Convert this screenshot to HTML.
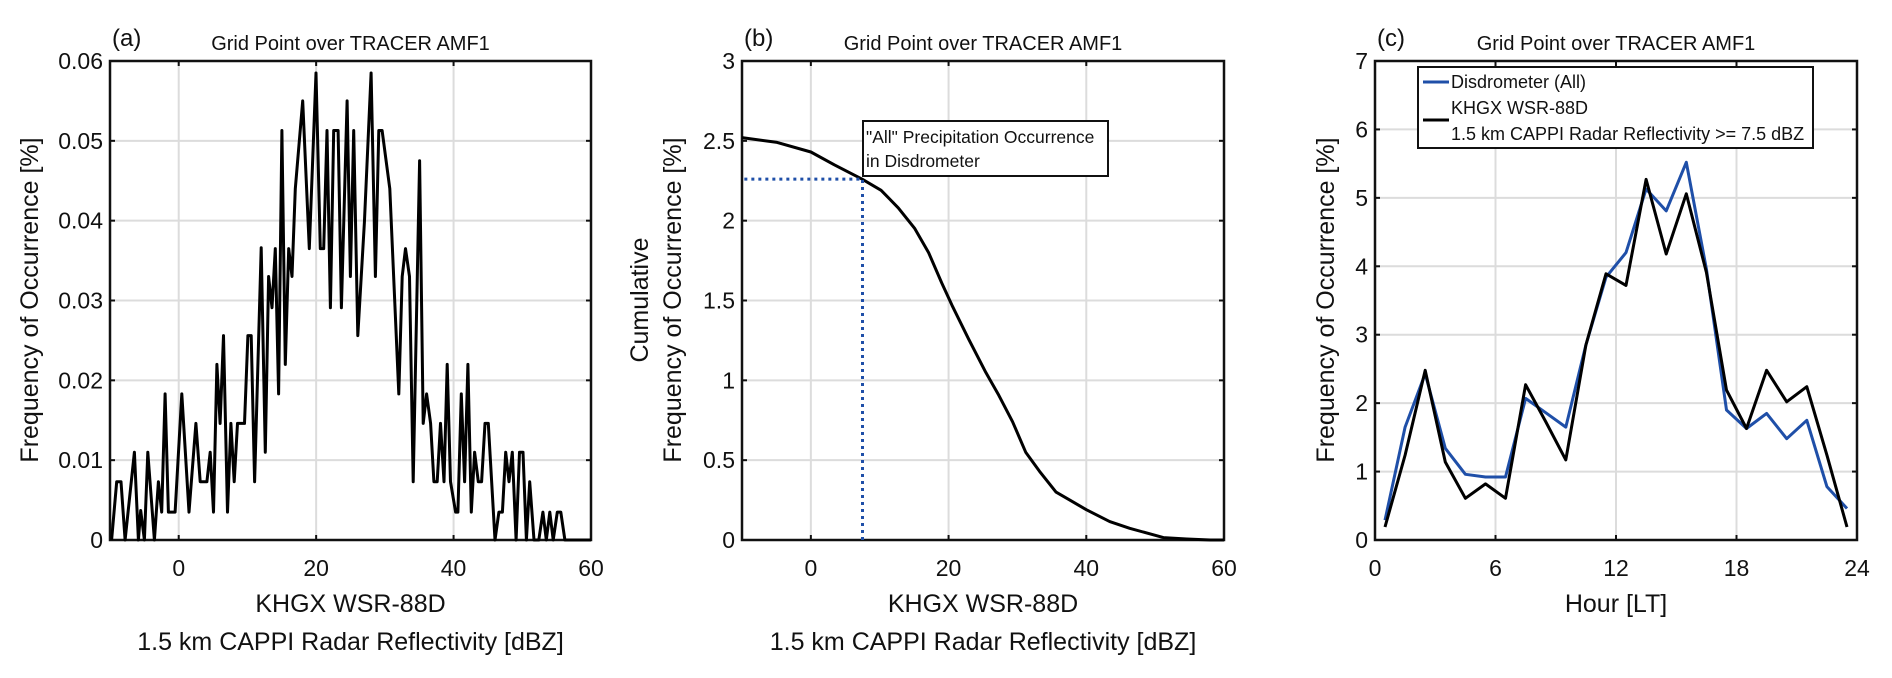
<!DOCTYPE html>
<html><head><meta charset="utf-8"><style>
html,body{margin:0;padding:0;background:#fff;}
svg{display:block;font-family:"Liberation Sans",sans-serif;}
</style></head><body>
<svg id="fig" width="1892" height="678" viewBox="0 0 1892 678" xmlns="http://www.w3.org/2000/svg"></svg>
<script>
// ---------- Panel (a) data ----------
const aX = [-9.76,-9.03,-8.4,-7.8,-6.45,-5.87,-5.53,-5.0,-4.5,-3.54,-2.96,-2.47,-1.98,-1.5,-0.53,0.45,1.5,2.5,3.12,4.1,4.58,5.06,5.55,6.03,6.52,7.1,7.59,8.07,8.56,9.58,10.07,10.55,11.04,12.0,12.6,13.08,13.57,14.05,14.54,15.02,15.51,16.0,16.48,16.97,18.04,19.0,19.98,20.6,21.1,21.58,22.07,22.55,23.19,23.67,24.5,24.99,25.47,26.06,27.03,28.0,28.63,29.12,29.6,30.72,32.03,32.52,33.0,33.59,34.12,35.05,35.58,36.07,36.65,37.14,37.62,38.1,38.6,39.08,39.56,40.3,40.63,41.12,41.6,42.09,42.58,43.06,43.6,44.08,44.57,45.05,46.03,46.6,47.1,47.58,48.07,48.55,49.1,49.6,50.1,50.6,51.08,51.7,52.4,53.0,53.5,54.0,54.5,55.1,55.6,56.2,60];
const aY = [0,0.0073,0.0073,0,0.011,0,0.0037,0,0.011,0,0.0073,0.0035,0.0183,0.0035,0.0035,0.0183,0.0035,0.0146,0.0073,0.0073,0.011,0.0035,0.022,0.0146,0.0256,0.0035,0.0146,0.0073,0.0146,0.0146,0.0256,0.0256,0.0073,0.0366,0.011,0.033,0.0291,0.0365,0.0183,0.0513,0.022,0.0365,0.033,0.044,0.055,0.0365,0.0585,0.0365,0.0365,0.0513,0.0291,0.0513,0.0513,0.0291,0.055,0.033,0.0513,0.0256,0.0398,0.0585,0.033,0.0513,0.0513,0.044,0.0183,0.033,0.0365,0.033,0.0073,0.0475,0.0146,0.0183,0.0146,0.0073,0.0073,0.0146,0.0073,0.022,0.0073,0.0035,0.0035,0.0183,0.0073,0.022,0.0035,0.011,0.0073,0.0073,0.0146,0.0146,0,0.0035,0.0035,0.011,0.0073,0.011,0,0.011,0.011,0,0.0073,0,0,0.0035,0,0.0035,0,0.0035,0.0035,0,0];
const aXTicks = [0,20,40,60];
const aYTicks = [0,0.01,0.02,0.03,0.04,0.05,0.06];
const aYTickLabels = ["0","0.01","0.02","0.03","0.04","0.05","0.06"];
// ---------- Panel (b) data ----------
const bX = [-10,-4.9,0,3.4,7.46,10.2,12.7,15.1,17.1,19.0,20.5,22.9,25.4,27.3,29.3,31.2,33.2,35.6,37.6,40,43.4,46.3,51.2,54.6,58,60];
const bY = [2.52,2.49,2.43,2.35,2.26,2.19,2.08,1.95,1.80,1.61,1.47,1.26,1.05,0.906,0.74,0.55,0.43,0.30,0.25,0.19,0.115,0.073,0.015,0.006,0,0];
const bThreshX = 7.5;
const bThreshY = 2.26;
const bXTicks = [0,20,40,60];
const bYTicks = [0,0.5,1,1.5,2,2.5,3];
const bYTickLabels = ["0","0.5","1","1.5","2","2.5","3"];
// ---------- Panel (c) data ----------
const cHours = [0.5,1.5,2.5,3.5,4.5,5.5,6.5,7.5,8.5,9.5,10.5,11.5,12.5,13.5,14.5,15.5,16.5,17.5,18.5,19.5,20.5,21.5,22.5,23.5];
const cDisdrometer = [0.29,1.65,2.43,1.34,0.96,0.92,0.92,2.07,1.86,1.65,2.85,3.84,4.2,5.13,4.81,5.52,3.96,1.9,1.63,1.85,1.48,1.75,0.78,0.46];
const cRadar = [0.19,1.24,2.48,1.14,0.61,0.82,0.61,2.27,1.73,1.17,2.85,3.89,3.72,5.27,4.18,5.06,3.91,2.19,1.63,2.48,2.02,2.24,1.24,0.19];
const cXTicks = [0,6,12,18,24];
const cYTicks = [0,1,2,3,4,5,6,7];

const NS = "http://www.w3.org/2000/svg";
const svg = document.getElementById('fig');
function mk(tag, attrs, parent){
  const e = document.createElementNS(NS, tag);
  for (const k in attrs) e.setAttribute(k, attrs[k]);
  (parent||svg).appendChild(e);
  return e;
}
function txt(s, attrs, parent){ const e = mk('text', attrs, parent); e.textContent = s; return e; }

function panel(cfg){
  const g = mk('g', {});
  
  
  const L=cfg.L,R=cfg.R,T=61,B=540;
  const sx = v => L + (v-cfg.xmin)/(cfg.xmax-cfg.xmin)*(R-L);
  const sy = v => B - (v-cfg.ymin)/(cfg.ymax-cfg.ymin)*(B-T);
  cfg.xt.forEach(v=>{ if(v>cfg.xmin && v<cfg.xmax){ const l=mk('line',{x1:sx(v),x2:sx(v),y1:T,y2:B,stroke:'#dcdcdc','stroke-width':2},g);   }});
  cfg.yt.forEach(v=>{ if(v>cfg.ymin && v<cfg.ymax){ const l=mk('line',{x1:L,x2:R,y1:sy(v),y2:sy(v),stroke:'#dcdcdc','stroke-width':2},g);   }});
  cfg.xt.forEach(v=>{
    mk('line',{x1:sx(v),x2:sx(v),y1:B,y2:B-5,stroke:'#111','stroke-width':2},g);
    mk('line',{x1:sx(v),x2:sx(v),y1:T,y2:T+5,stroke:'#111','stroke-width':2},g);
    const t=txt(String(v),{x:sx(v),y:576,'font-size':23,'text-anchor':'middle',fill:'#111'},g);
     
  });
  cfg.yt.forEach((v,i)=>{
    mk('line',{x1:L,x2:L+5,y1:sy(v),y2:sy(v),stroke:'#111','stroke-width':2},g);
    mk('line',{x1:R,x2:R-5,y1:sy(v),y2:sy(v),stroke:'#111','stroke-width':2},g);
    const t=txt(cfg.ytl?cfg.ytl[i]:String(v),{x:L-7,y:sy(v)+8,'font-size':23,'text-anchor':'end',fill:'#111'},g);
     
  });
  const frame=mk('rect',{x:L,y:T,width:R-L,height:B-T,fill:'none',stroke:'#111','stroke-width':2.5},g);
   
  const tt=txt('Grid Point over TRACER AMF1',{x:(L+R)/2,y:50,'font-size':20,'text-anchor':'middle',fill:'#111'},g);
   
  const pl=txt(cfg.letter,{x:L+2,y:46,'font-size':24,fill:'#111'},g);
   
  cfg.xl.forEach((s,i)=>{ const t=txt(s,{x:(L+R)/2,y:612+i*38,'font-size':25,'text-anchor':'middle',fill:'#111'},g);   });
  cfg.yl.forEach((s,i)=>{ const x=cfg.ylx[i]; const t=txt(s,{x:x,y:300,'font-size':25,'text-anchor':'middle',fill:'#111',transform:`rotate(-90 ${x} 300)`},g);   });
  return {g,sx,sy};
}
function pathD(xs,ys,sx,sy){ return xs.map((x,i)=>(i?'L':'M')+sx(x).toFixed(1)+','+sy(ys[i]).toFixed(1)).join(''); }

const pa = panel({name:'panel-a',L:110,R:591,xmin:-10,xmax:60,ymin:0,ymax:0.06,xt:aXTicks,yt:aYTicks,ytl:aYTickLabels,letter:'(a)',
  xl:['KHGX WSR-88D','1.5 km CAPPI Radar Reflectivity [dBZ]'],yl:['Frequency of Occurrence [%]'],ylx:[38]});
const la = mk('path',{d:pathD(aX,aY,pa.sx,pa.sy),fill:'none',stroke:'#000','stroke-width':3,'stroke-linejoin':'round'},pa.g);
 

const pb = panel({name:'panel-b',L:742,R:1224,xmin:-10,xmax:60,ymin:0,ymax:3,xt:bXTicks,yt:bYTicks,ytl:bYTickLabels,letter:'(b)',
  xl:['KHGX WSR-88D','1.5 km CAPPI Radar Reflectivity [dBZ]'],yl:['Cumulative','Frequency of Occurrence [%]'],ylx:[648,681]});
const lb = mk('path',{d:pathD(bX,bY,pb.sx,pb.sy),fill:'none',stroke:'#000','stroke-width':3,'stroke-linejoin':'round'},pb.g);
 
const dv = mk('path',{d:`M${pb.sx(bThreshX)},${pb.sy(0)}V${pb.sy(bThreshY)}H${pb.sx(-10)}`,fill:'none',stroke:'#1f4fa8','stroke-width':3,'stroke-dasharray':'3,4'},pb.g);
 
const ab = mk('rect',{x:863,y:121,width:245,height:55,fill:'#fff',stroke:'#111','stroke-width':2},pb.g);
 
const at1=txt('"All" Precipitation Occurrence',{x:866,y:143,'font-size':17.5,fill:'#111'},pb.g);
 
const at2=txt('in Disdrometer',{x:866,y:167,'font-size':17.5,fill:'#111'},pb.g);
 

const pc = panel({name:'panel-c',L:1375,R:1857,xmin:0,xmax:24,ymin:0,ymax:7,xt:cXTicks,yt:cYTicks,letter:'(c)',
  xl:['Hour [LT]'],yl:['Frequency of Occurrence [%]'],ylx:[1334]});
const lc1 = mk('path',{d:pathD(cHours,cDisdrometer,pc.sx,pc.sy),fill:'none',stroke:'#1f4fa8','stroke-width':3,'stroke-linejoin':'round'},pc.g);
 
const lc2 = mk('path',{d:pathD(cHours,cRadar,pc.sx,pc.sy),fill:'none',stroke:'#000','stroke-width':3,'stroke-linejoin':'round'},pc.g);
 
const lg = mk('g',{},pc.g);
 
mk('rect',{x:1418,y:67,width:395,height:81,fill:'#fff',stroke:'#111','stroke-width':2},lg);
mk('line',{x1:1423,x2:1449,y1:82,y2:82,stroke:'#1f4fa8','stroke-width':3},lg);
mk('line',{x1:1423,x2:1449,y1:120,y2:120,stroke:'#000','stroke-width':3},lg);
const le1=txt('Disdrometer (All)',{x:1451,y:88,'font-size':18,fill:'#111'},lg);
 
const le2=txt('KHGX WSR-88D',{x:1451,y:114,'font-size':18,fill:'#111'},lg);
 
const le3=txt('1.5 km CAPPI Radar Reflectivity >= 7.5 dBZ',{x:1451,y:140,'font-size':18,fill:'#111'},lg);
 
</script>
</body></html>
